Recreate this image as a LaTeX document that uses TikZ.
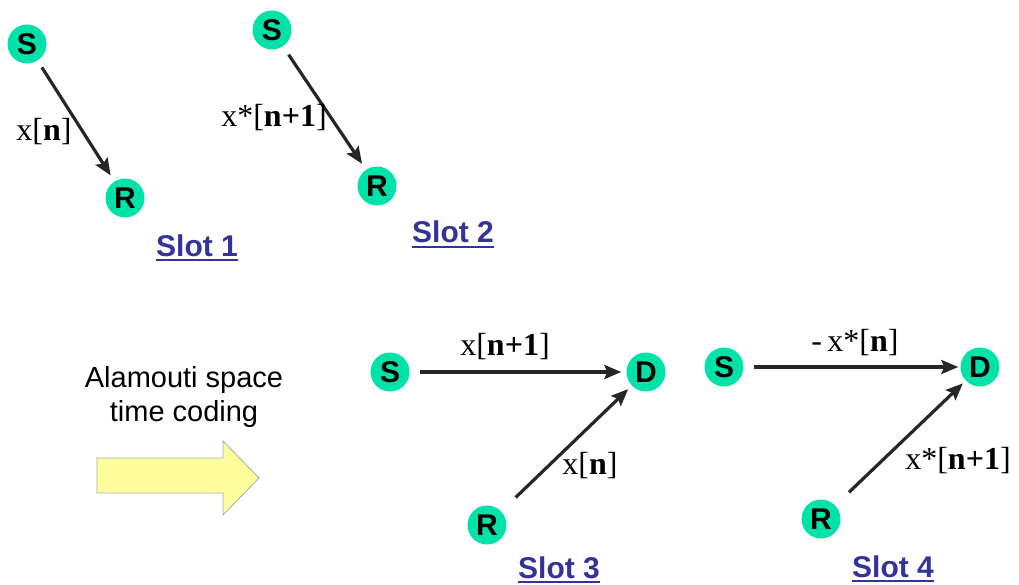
\documentclass[tikz,border=0pt]{standalone}
\usepackage{fontspec}
\setmainfont{Liberation Serif}
\setsansfont{Liberation Sans}
\usetikzlibrary{arrows.meta}
\usepackage{xcolor}
\definecolor{termgreen}{RGB}{0,226,168}
\definecolor{slotblue}{RGB}{51,51,153}
\definecolor{softyellow}{RGB}{255,255,158}
\definecolor{edgegray}{RGB}{170,170,170}

\begin{document}
\begin{tikzpicture}[
    x=1pt,y=-1pt,
    term/.style={circle,fill=termgreen,minimum size=39pt,inner sep=0pt,font=\sffamily\bfseries\fontsize{30}{30}\selectfont},
    sig/.style={inner sep=0pt,font=\fontsize{32}{32}\selectfont},
    slot/.style={anchor=base,inner sep=0pt,text=slotblue,font=\sffamily\bfseries\fontsize{30}{30}\selectfont},
    uline/.style={draw=slotblue,line width=1.8pt},
    link/.style={-{Stealth[length=17pt,width=14pt,inset=3pt]},line width=3.2pt,draw=black!85},
    >=Stealth
]
\useasboundingbox (0,0) rectangle (1019,585);

% slot 1
\node[term] (s1) at (27,44) {S};
\node[term] (r1) at (125,198) {R};
\draw[link,shorten <=8pt,shorten >=7pt] (s1) -- (r1);
\node[sig] (x1) at (44,132) {x[\textbf{n}]};
\node[slot] (sl1) at (197,256) {Slot 1};
\draw[uline] ([yshift=-4pt]sl1.base west) -- ([yshift=-4pt]sl1.base east);

% slot 2
\node[term] (s2) at (272,30) {S};
\node[term] (r2) at (377,186) {R};
\draw[link,shorten <=10pt,shorten >=7pt] (s2) -- (r2);
\node[sig] (x2) at (274,118) {x*[\textbf{n+1}]};
\node[slot] (sl2) at (453,243) {Slot 2};
\draw[uline] ([yshift=-4pt]sl2.base west) -- ([yshift=-4pt]sl2.base east);

% space time coding step
\node[align=center,font=\sffamily\fontsize{29}{33}\selectfont] (stc) at (184,397) {Alamouti space\\time coding};
\draw[draw=edgegray,fill=softyellow,line width=0.8pt]
    (97,458) -- (223,458) -- (223,441) -- (259,478) -- (223,515) -- (223,493) -- (97,493) -- cycle;

% slot 3
\node[term] (s3) at (390,372) {S};
\node[term] (d3) at (646,372) {D};
\node[term] (r3) at (487,525) {R};
\draw[link,shorten <=10pt,shorten >=5pt] (s3) -- (d3);
\draw[link,shorten <=20pt,shorten >=5pt] (r3) -- (d3);
\node[sig] (x3a) at (505,347) {x[\textbf{n+1}]};
\node[sig] (x3b) at (590,466) {x[\textbf{n}]};
\node[slot] (sl3) at (559,578) {Slot 3};
\draw[uline] ([yshift=-4pt]sl3.base west) -- ([yshift=-4pt]sl3.base east);

% slot 4
\node[term] (s4) at (724,367) {S};
\node[term] (d4) at (980,367) {D};
\node[term] (r4) at (821,519) {R};
\draw[link,shorten <=10pt,shorten >=2pt] (s4) -- (d4);
\draw[link,shorten <=19pt,shorten >=4pt] (r4) -- (d4);
\node[sig] (x4a) at (855,343) {-\,x*[\textbf{n}]};
\node[sig] (x4b) at (958,461) {x*[\textbf{n+1}]};
\node[slot] (sl4) at (893,577) {Slot 4};
\draw[uline] ([yshift=-4pt]sl4.base west) -- ([yshift=-4pt]sl4.base east);
\end{tikzpicture}
\end{document}
